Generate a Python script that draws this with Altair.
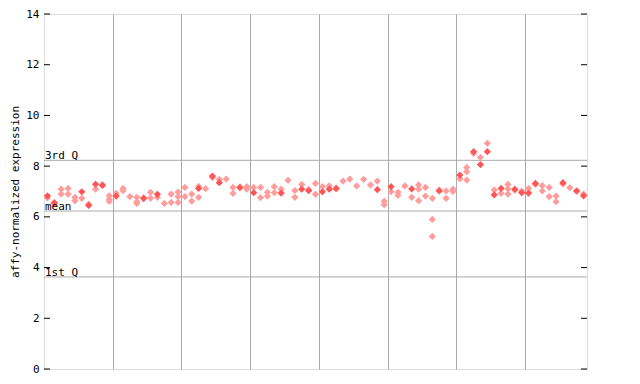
import altair as alt
import pandas as pd

# ---- data ----
solid_cols = [0, 1, 5, 6, 7, 8, 10, 14, 16, 22, 24, 25, 28, 30, 34, 37, 38, 40, 41, 42,
              48, 50, 53, 57, 60, 62, 63, 64, 65, 66, 68, 69, 70, 71, 75, 77, 78]
solid_vals = [6.83, 6.56, 6.99, 6.45, 7.29, 7.24, 6.82, 6.72, 6.89, 7.12, 7.61, 7.35, 7.15, 6.95,
              6.94, 7.09, 7.03, 6.99, 7.09, 7.11, 7.07, 7.19, 7.10, 7.02, 7.65, 8.57, 8.06, 8.57,
              6.87, 7.12, 7.09, 6.95, 6.94, 7.32, 7.35, 7.03, 6.83]

hatch_cols = [0, 1, 2, 2, 3, 3, 4, 4, 5, 6, 7, 8, 9, 9, 9, 10, 11, 11, 12, 13, 13, 13, 14,
              15, 15, 16, 17, 18, 18, 19, 19, 19, 20, 20, 21, 21, 22, 22, 23, 24, 25, 26,
              27, 27, 28, 29, 29, 30, 31, 31, 32, 32, 33, 33, 34, 35, 36, 36, 37, 38, 39, 39,
              40, 41, 42, 43, 44, 45, 46, 47, 48, 49, 49, 50, 51, 51, 52, 53, 54, 54, 54,
              55, 55, 56, 56, 56, 57, 58, 58, 59, 59, 60, 61, 61, 61, 62, 63, 64, 65, 66,
              67, 67, 67, 68, 69, 70, 71, 72, 72, 73, 73, 74, 74, 75, 76, 77, 78]
hatch_vals = [6.75, 6.52, 7.09, 6.90, 7.12, 6.90, 6.77, 6.64, 6.73, 6.50, 7.09, 7.27, 6.83, 6.69, 6.61,
              6.93, 7.12, 7.03, 6.80, 6.77, 6.60, 6.53, 6.76, 6.97, 6.74, 6.77, 6.53, 6.90, 6.57,
              6.98, 6.80, 6.57, 7.16, 6.80, 6.90, 6.62, 7.20, 6.77, 7.11, 7.55, 7.48, 7.49,
              7.16, 6.93, 7.18, 7.19, 7.09, 7.16, 7.16, 6.76, 6.97, 6.82, 7.19, 6.95, 7.09, 7.44,
              7.04, 6.77, 7.28, 7.08, 7.32, 6.89, 7.19, 7.22, 7.14, 7.41, 7.49, 7.22, 7.48, 7.26,
              7.41, 6.62, 6.48, 6.99, 6.97, 6.85, 7.22, 6.77, 7.26, 7.09, 6.64, 7.16, 6.82,
              6.73, 5.90, 5.23, 7.06, 7.02, 6.73, 7.09, 7.00, 7.50, 7.95, 7.78, 7.45, 8.50,
              8.35, 8.90, 7.06, 6.93, 7.28, 7.10, 6.90, 7.05, 7.02, 7.12, 7.28, 7.23, 7.02,
              7.16, 6.80, 6.82, 6.60, 7.30, 7.15, 7.00, 6.90]

n_samples = 79
group_bounds = [10, 20, 30, 40, 50, 60, 70]
q_labels = ["3rd Q", "mean", "1st Q"]
q_vals = [8.23, 6.23, 3.63]
y_ticks = [0, 2, 4, 6, 8, 10, 12, 14]

W, H = 543, 355
FONT = "DejaVu Sans Mono"

solid_df = pd.DataFrame({"x": [c + 0.5 for c in solid_cols], "v": solid_vals})
hatch_df = pd.DataFrame({"x": [c + 0.5 for c in hatch_cols], "v": hatch_vals})
q_df = pd.DataFrame({"label": q_labels, "v": q_vals, "x0": [0] * len(q_vals)})
t_df = pd.DataFrame({"v": y_ticks})

xs = alt.Scale(domain=[0, n_samples], nice=False, zero=False)
ys = alt.Scale(domain=[0, 14], nice=False)

x_axis = alt.Axis(values=group_bounds, grid=True, gridColor="#aaaaaa", gridWidth=1,
                  labels=False, ticks=False, domain=False, title=None)
y_axis = alt.Axis(values=y_ticks, grid=False, ticks=False, domain=False, labelPadding=5,
                  labelFont=FONT, labelFontSize=11, labelColor="black",
                  title="affy-normalized expression", titleFont=FONT, titleFontSize=11,
                  titleFontWeight="normal", titleColor="black", titlePadding=5)

hatch = alt.Chart(hatch_df).mark_point(shape="diamond", filled=True, size=52,
                                        strokeWidth=0, color="#ff9c9c", opacity=1).encode(
    x=alt.X("x:Q", scale=xs, axis=x_axis),
    y=alt.Y("v:Q", scale=ys, axis=y_axis),
)
solid = alt.Chart(solid_df).mark_point(shape="diamond", filled=True, size=52,
                                        strokeWidth=0, color="#ff5555", opacity=1).encode(
    x=alt.X("x:Q", scale=xs),
    y=alt.Y("v:Q", scale=ys),
)
qlines = alt.Chart(q_df).mark_rule(color="#aaaaaa", strokeWidth=1).encode(
    y=alt.Y("v:Q", scale=ys),
)
qtext = alt.Chart(q_df).mark_text(align="left", baseline="bottom", dx=1, dy=1,
                                  font=FONT, fontSize=11, color="black").encode(
    x=alt.X("x0:Q", scale=xs),
    y=alt.Y("v:Q", scale=ys),
    text="label:N",
)
lticks = alt.Chart(t_df).mark_rule(color="black", strokeWidth=1).encode(
    y=alt.Y("v:Q", scale=ys), x=alt.value(0), x2=alt.value(6))
rticks = alt.Chart(t_df).mark_rule(color="black", strokeWidth=1).encode(
    y=alt.Y("v:Q", scale=ys), x=alt.value(W - 6), x2=alt.value(W))

chart = alt.layer(qlines, hatch, solid, qtext, lticks, rticks).properties(
    width=W, height=H,
    autosize=alt.AutoSizeParams(type="none"),
    padding={"left": 36, "top": 6, "right": 45, "bottom": 7},
).configure_view(stroke="black", strokeWidth=1).configure(background="white")

chart.save("out.html", embed_options={"renderer": "svg", "actions": False})
